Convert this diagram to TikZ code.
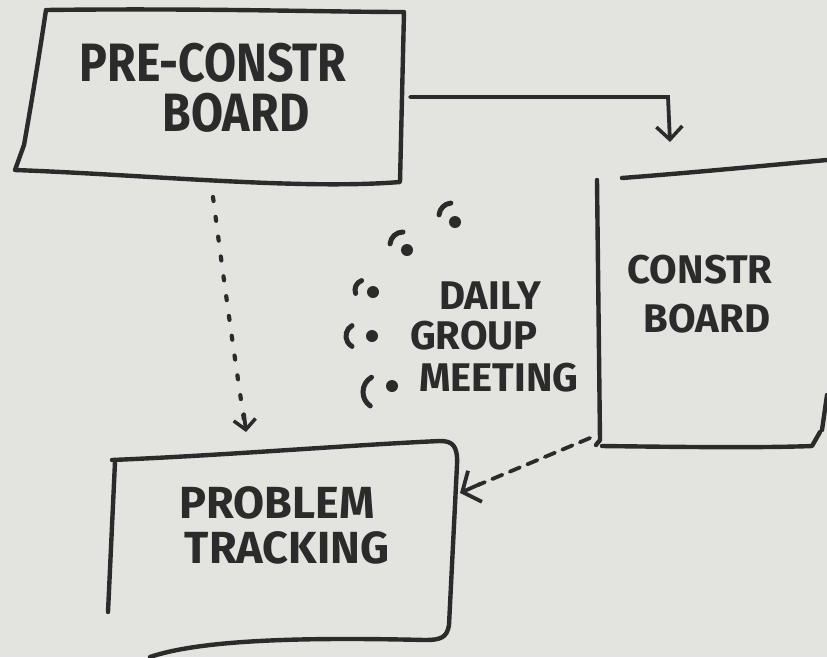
\documentclass[tikz,border=0pt]{standalone}
\usepackage{fontspec}
\newfontfamily\hand[FakeStretch=0.86]{Fira Sans}
\newfontfamily\handw{Fira Sans}
\usetikzlibrary{arrows.meta}
\definecolor{board}{HTML}{E3E3E0}
\definecolor{ink}{HTML}{2B2B2B}
\tikzset{
  txt/.style={text=ink, inner sep=0pt, text depth=0pt},
  outline/.style={draw=ink, line width=4.4pt, line cap=round, line join=round},
  big/.style={txt, text height=37pt, font=\hand\bfseries\fontsize{54}{54}\selectfont},
  mid/.style={txt, text height=31pt, font=\handw\bfseries\fontsize{45}{45}\selectfont},
  small/.style={txt, text height=28pt, font=\handw\bfseries\fontsize{40}{40}\selectfont},
  wave/.style={draw=ink, line width=5pt, line cap=round},
  conn/.style={draw=ink, line width=3.8pt, line cap=round}
}
\begin{document}
\begin{tikzpicture}[x=1pt,y=-1pt]
\fill[board] (0,0) rectangle (827,657);
\useasboundingbox (0,0) rectangle (827,657);

% Pre-construction board
\draw[outline] (46,10) .. controls (200,8) and (330,12) .. (404,12)
  -- (400,182) .. controls (300,190) and (150,175) .. (15,170)
  -- (24,145) .. controls (32,100) and (40,50) .. (46,10);
\node[big] (pre1) at (213,63) {PRE-CONSTR};
\node[big] (pre2) at (236,113) {BOARD};

% Construction board
\draw[outline] (622,178) .. controls (700,172) and (760,166) .. (827,160);
\draw[outline] (597,180) -- (600,440) -- (596,445);
\draw[outline] (602,446) .. controls (680,447) and (760,448) .. (812,446) -- (820,432);
\draw[outline] (827,395) -- (822,430);
\node[small] (con1) at (700,269) {CONSTR};
\node[small] (con2) at (707,318) {BOARD};

% Problem tracking box
\draw[outline] (112,460) .. controls (230,455) and (350,445) .. (440,441)
  .. controls (452,441) and (458,445) .. (457,465)
  -- (449,625) .. controls (447,638) and (440,640) .. (425,640)
  .. controls (300,637) and (200,640) .. (150,657);
\draw[outline] (115,462) -- (108,612);
\node[mid] (prob1) at (277,503) {PROBLEM};
\node[mid] (prob2) at (287,548) {TRACKING};

% Connectors
\coordinate (preR) at (410,97);
\coordinate (conT) at (670,142);
\draw[conn, -{Straight Barb[length=13pt,width=26pt,line width=3.5pt]}] (preR) -- (668,97) -- (conT);

\coordinate (preB) at (213,197);
\coordinate (probT) at (246,432);
\draw[conn, dash pattern=on 4pt off 16pt, line width=4.2pt] (preB) .. controls (225,290) and (235,360) .. (244,420);
\draw[conn, -{Straight Barb[length=10pt,width=22pt,line width=3.5pt]}] (244,414) -- (probT);

\coordinate (conBL) at (590,438);
\coordinate (probR) at (460,493);
\draw[conn, dash pattern=on 11pt off 8pt] (conBL) -- (478,485);
\draw[conn, -{Straight Barb[length=14pt,width=34pt,line width=3.8pt]}] (480,484) -- (probR);

% Meeting sound marks
\foreach \cx/\cy/\a/\b/\r/\dx/\dy in {452/216/95/175/13/455/222, 403/245/90/175/13/407/250, 365/290/110/200/10/373/292, 358/336/120/240/12/372/336, 380/392/120/235/17/392/386}{
  \draw[wave] ({\cx+\r*cos(\a)},{\cy-\r*sin(\a)}) arc[start angle=-\a, end angle=-\b, radius=\r];
  \fill[ink] (\dx,\dy) circle (6pt);
}
\node[small] (daily1) at (490,295) {DAILY};
\node[small] (daily2) at (474,335) {GROUP};
\node[small] (daily3) at (499,377) {MEETING};
\end{tikzpicture}
\end{document}
